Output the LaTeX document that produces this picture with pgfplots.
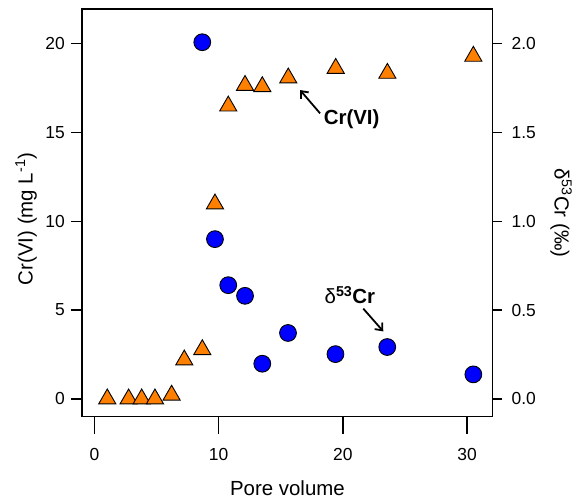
\documentclass[border=0pt]{standalone}
\usepackage{pgfplots}
\pgfplotsset{compat=1.18}
\usepackage{fontspec}
\setmainfont{Liberation Sans}
\usetikzlibrary{arrows.meta}
\definecolor{crorange}{RGB}{255,128,0}
\definecolor{crblue}{RGB}{0,0,255}

\pgfplotsset{
  base/.style={
    scale only axis, width=410.3bp, height=407.5bp,
    xmin=-0.98, xmax=32.05,
    /pgf/number format/assume math mode=true,
    tick label style={font=\fontsize{17.5}{20}\selectfont},
    label style={font=\fontsize{20.5}{24}\selectfont},
    tick align=outside,
    every tick/.style={black, line width=1.3bp},
    clip=false,
  },
}

\begin{document}
\begin{tikzpicture}
% left axis: box and Cr(VI)
\begin{axis}[base,
  ymin=-0.99, ymax=21.94,
  axis line style={line width=1.6bp},
  xtick=\empty,
  ytick={0,5,10,15,20}, ytick pos=left, major tick length=11.5bp,
  yticklabel style={xshift=-2.5bp},
  ylabel={Cr(VI) (mg L\textsuperscript{-1})},
  ylabel style={at={(axis description cs:-0.137,0.485)}, anchor=center},
]
\addplot[only marks, mark=triangle*, mark size=9.9bp,
  mark options={fill=crorange, draw=black, line width=0.9bp}]
  coordinates {(1.03,0.0) (2.75,0.0) (3.8,0.0) (4.87,0.0) (6.21,0.21)
    (7.23,2.19) (8.68,2.77) (9.70,10.97) (10.77,16.48) (12.12,17.64)
    (13.51,17.57) (15.6,18.06) (19.42,18.6) (23.58,18.32) (30.5,19.28)};
\coordinate (bl) at (rel axis cs:0,0);
\coordinate (tr) at (rel axis cs:1,1);
% annotations
\node[font=\bfseries\fontsize{20.5}{24}\selectfont] at (axis cs:20.7,15.73) {Cr(VI)};
\draw[line width=1.8bp, -{Straight Barb[length=6bp,width=10bp]}]
  (axis cs:18.16,16.07) -- (axis cs:16.55,17.38);
\node[font=\bfseries\fontsize{20.5}{24}\selectfont] at (axis cs:20.56,5.83)
  {{\mdseries δ}\textsuperscript{53}Cr};
\draw[line width=1.8bp, -{Straight Barb[length=6bp,width=10bp]}]
  (axis cs:21.64,5.08) -- (axis cs:23.25,3.80);
\end{axis}

% bottom axis: ticks only
\begin{axis}[base,
  ymin=-0.99, ymax=21.94,
  axis line style={draw=none},
  ytick=\empty,
  xtick={0,10,20,30}, xtick pos=bottom, major tick length=17bp,
  xticklabel style={yshift=-11bp},
  xlabel={Pore volume},
  xlabel style={at={(axis description cs:0.5,-0.176)}, anchor=center},
]
\end{axis}

% right axis: delta 53 Cr
\begin{axis}[base,
  ymin=-0.099, ymax=2.194,
  axis line style={draw=none},
  xtick=\empty,
  ytick={0,0.5,1,1.5,2}, yticklabels={0.0,0.5,1.0,1.5,2.0},
  ytick pos=right, yticklabel pos=right, major tick length=9.5bp,
  yticklabel style={xshift=6bp},
  ylabel={δ\textsuperscript{53}Cr (‰)},
  ylabel style={at={(axis description cs:1.167,0.5)}, anchor=center, rotate=180},
]
\addplot[only marks, mark=*, mark size=8.4bp,
  mark options={fill=crblue, draw=black, line width=0.9bp}]
  coordinates {(8.68,2.007) (9.7,0.899) (10.77,0.64) (12.12,0.58)
    (13.51,0.198) (15.58,0.371) (19.4,0.252) (23.57,0.292) (30.5,0.138)};
\end{axis}

\pgfresetboundingbox
\path[use as bounding box] ([xshift=-82.3bp,yshift=-87.5bp]bl) rectangle ([xshift=84.4bp,yshift=9bp]tr);
\end{tikzpicture}
\end{document}
